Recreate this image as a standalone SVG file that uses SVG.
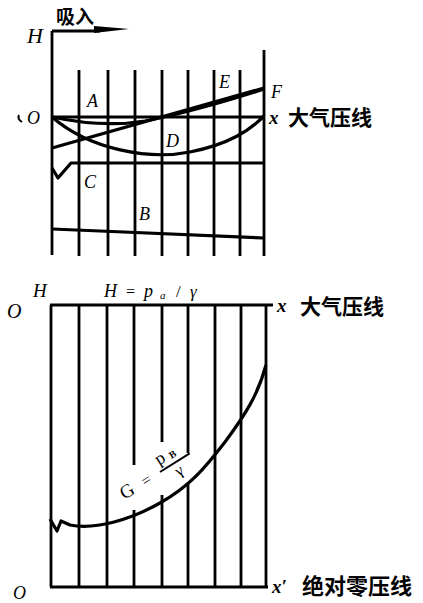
<svg xmlns="http://www.w3.org/2000/svg" width="423" height="603" viewBox="0 0 423 603">
<style>
.ln{fill:none;stroke:#000;stroke-width:2.8;stroke-linecap:butt;stroke-linejoin:round}
.th{fill:none;stroke:#000;stroke-width:3.2;stroke-linejoin:round}
.it{font-family:"Liberation Serif","DejaVu Serif",serif;font-style:italic;fill:#000}
.rm{font-family:"Liberation Serif","DejaVu Serif",serif;fill:#000}
.cn{font-family:"Liberation Serif","Noto Sans CJK SC",serif;fill:#000;font-weight:bold}
</style>
<rect width="423" height="603" fill="#fff"/>
<g id="top-grid">
<path class="ln" d="M52,31 V255 M79,70 V256 M108,70 V256 M135,70 V256 M162,70 V256 M188,70 V256 M214,70 V256 M240,70 V256 M264,50 V256"/>
<path class="ln" d="M52,31 H100"/>
<polygon points="94,26 129,29 94,33" fill="#000"/>
</g>
<g id="top-lines">
<path class="th" d="M52,117 H264"/>
<path class="th" d="M52,148 L264,88"/>
<path class="th" d="M52,117 C80,123 115,126 145,121 C185,113 230,100 264,89"/>
<path class="th" d="M52,117 C90,150 150,160 190,152 S250,130 264,116"/>
<path class="th" d="M52,168 L58,178 L71,163 L264,163"/>
<path class="th" d="M52,229 L100,231 L264,238"/>
<path d="M19,115 Q17,119 22,122" fill="none" stroke="#000" stroke-width="2"/>
</g>
<g id="top-labels">
<text class="it" x="27" y="43" font-size="22">H</text>
<text class="cn" x="56" y="24" font-size="19" font-weight="normal">吸入</text>
<text class="it" x="27" y="124" font-size="18">O</text>
<text class="it" x="87" y="107" font-size="18">A</text>
<text class="it" x="219" y="88" font-size="18">E</text>
<text class="it" x="271" y="98" font-size="18">F</text>
<text class="it" x="166" y="147" font-size="18">D</text>
<text class="it" x="84" y="188" font-size="18">C</text>
<text class="it" x="139" y="220" font-size="18">B</text>
<text class="it" x="269" y="124" font-size="19" font-weight="bold">x</text>
<text class="cn" x="288" y="125" font-size="21">大气压线</text>
</g>
<g id="bottom-grid">
<path class="ln" d="M51,305 V587 M79,305 V587 M107,305 V587 M134,305 V465 M134,510 V587 M162,305 V442 M162,495 V587 M188,305 V453 M188,483 V587 M215,305 V587 M241,305 V587 M266,305 V587"/>
<path class="th" d="M50,305 H273"/>
<path class="th" d="M50,587 H268"/>
</g>
<g id="bottom-curve">
<path class="th" d="M50,519 L57,531 L61,521 L70,525 C95,530 130,520 160,503 C190,486 205,468 225,442 C245,415 258,395 266,365"/>
</g>
<g id="bottom-labels">
<text class="it" x="7" y="318" font-size="20">O</text>
<text class="it" x="33" y="297" font-size="19">H</text>
<text class="it" x="104" y="297" font-size="18">H</text>
<text class="rm" x="126" y="297" font-size="16">=</text>
<text class="it" x="144" y="297" font-size="18">p</text>
<text class="it" x="160" y="299" font-size="11">a</text>
<text class="rm" x="176" y="297" font-size="17">/</text>
<text class="it" x="190" y="297" font-size="17">γ</text>
<text class="it" x="277" y="312" font-size="19" font-weight="bold">x</text>
<text class="cn" x="300" y="314" font-size="21">大气压线</text>
<text class="it" x="272" y="593" font-size="19" font-weight="bold">x′</text>
<text class="cn" x="302" y="594" font-size="22">绝对零压线</text>
<text class="it" x="13" y="599" font-size="18">O</text>
<g transform="translate(160,472) rotate(-32)">
<path d="M0,0 H35" stroke="#000" stroke-width="2"/>
<text class="rm" x="-38" y="5" font-size="19" text-anchor="middle">G</text>
<text class="rm" x="-16" y="5" font-size="16" text-anchor="middle">=</text>
<text class="rm" x="7" y="-6" font-size="18" text-anchor="middle">p</text>
<text class="rm" x="20" y="-5" font-size="10" font-weight="bold" text-anchor="middle">B</text>
<text class="rm" x="17" y="14" font-size="16" text-anchor="middle">γ</text>
</g>
</g>
</svg>
